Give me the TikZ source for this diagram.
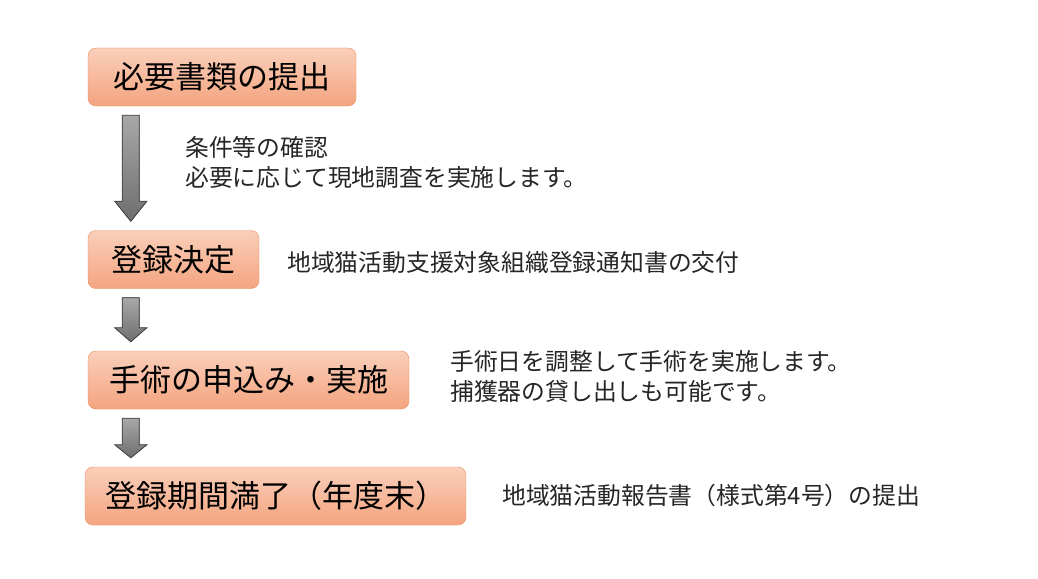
\documentclass[tikz,border=0pt]{standalone}
\usepackage{fontspec}
\setmainfont{Noto Sans CJK JP}
\usepackage{tikz}
\usetikzlibrary{calc, positioning}
\definecolor{saumonclair}{HTML}{FACFBA}
\definecolor{saumon}{HTML}{F4A47F}
\definecolor{saumonbord}{HTML}{EC8B5E}
\definecolor{grisclair}{HTML}{A8A8A8}
\definecolor{grisfonce}{HTML}{6E6E6E}
\tikzstyle{etape} = [rectangle, rounded corners = 8pt, minimum height = 58pt, inner sep = 0pt, text centered, draw = saumonbord, top color = saumonclair, bottom color = saumon, font = \fontsize{31pt}{31pt}\selectfont]
\tikzstyle{note} = [anchor = west, align = left, inner sep = 0pt, text = black!85, font = \fontsize{23.8pt}{30pt}\selectfont]
\tikzstyle{fleche} = [draw = black!75, line width = 0.8pt, top color = grisclair, bottom color = grisfonce]
% block arrow from the bottom of #1 to the top of #2, head height #3
\newcommand{\fleche}[3]{%
\filldraw[fleche] let \p1 = (#1.south west), \p2 = (#2.north) in
  (\x1+34.5pt,\y1-9pt) -- (\x1+51.5pt,\y1-9pt) -- (\x1+51.5pt,\y2+9pt+#3) -- (\x1+59pt,\y2+9pt+#3)
  -- (\x1+43pt,\y2+9pt) -- (\x1+27pt,\y2+9pt+#3) -- (\x1+34.5pt,\y2+9pt+#3) -- cycle;}

\begin{document}
\begin{tikzpicture}[x = 1pt, y = -1pt]
\path[use as bounding box, fill = white] (0,0) rectangle (1038,578);
\node (teishutsu) [etape, minimum width = 268pt] at (222,77) {必要書類の提出};
\node (toroku) [etape, minimum width = 171pt] at (173.5,259.5) {登録決定};
\node (shujutsu) [etape, minimum width = 321pt] at (248.5,380) {手術の申込み・実施};
\node (manryo) [etape, minimum width = 381pt] at (275.5,496) {登録期間満了（年度末）};
\node (kakunin) [note] at (185,162.5) {条件等の確認\\必要に応じて現地調査を実施します。};
\node (tsuchi) [note] at (287,262) {地域猫活動支援対象組織登録通知書の交付};
\node (chosei) [note] at (450,376.5) {手術日を調整して手術を実施します。\\捕獲器の貸し出しも可能です。};
\node (hokoku) [note] at (502,495) {地域猫活動報告書（様式第4号）の提出};
\fleche{teishutsu}{toroku}{20pt}
\fleche{toroku}{shujutsu}{14pt}
\fleche{shujutsu}{manryo}{13pt}
\end{tikzpicture}
\end{document}
